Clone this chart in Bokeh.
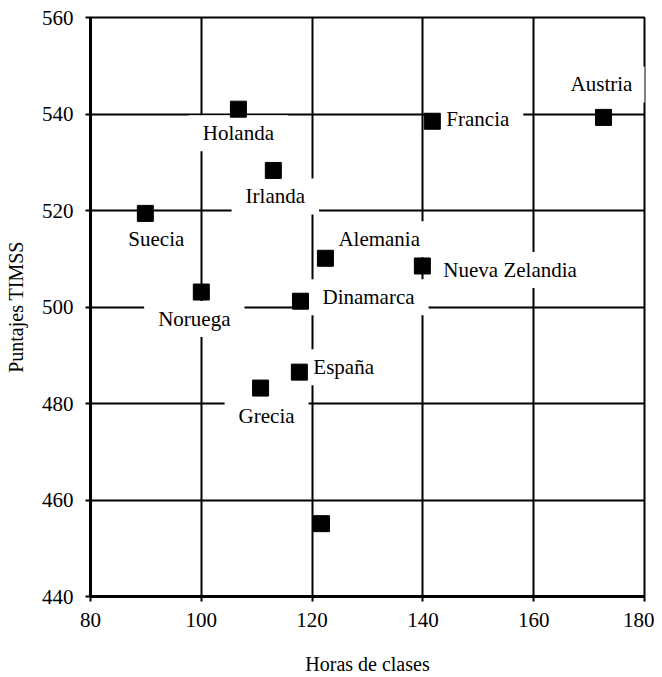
from bokeh.plotting import figure
from bokeh.models import ColumnDataSource, FixedTicker, Range1d
from bokeh.core.properties import value
from bokeh.embed import file_html
from bokeh.resources import INLINE

# data
paises = ["Holanda", "Irlanda", "Suecia", "Noruega", "Dinamarca", "Alemania",
          "Francia", "Austria", "Nueva Zelandia", "España", "Grecia", ""]
horas = [106.7, 113.0, 89.9, 100.0, 117.9, 122.4, 141.7, 172.6, 139.9, 117.7, 110.7, 121.7]
puntajes = [541.0, 528.3, 519.4, 503.1, 501.2, 510.1, 538.5, 539.3, 508.5, 486.5, 483.2, 455.1]
x_ticks = [80, 100, 120, 140, 160, 180]
y_ticks = [440, 460, 480, 500, 520, 540, 560]

# label placement (screen px offsets, styling)
lab_dx = [0, 2, 11, -7, 8, -1, 0, -2, 7, 0, 6, 0]
lab_dy = [24, 26, 26, 27, -4, -19, -2, -33, 4, -5, 28, 0]
lab_align = ["center", "center", "center", "center", "left", "left",
             "left", "center", "left", "left", "center", "center"]

src = ColumnDataSource(dict(x=horas, y=puntajes, name=paises,
                            dx=lab_dx, dy=lab_dy, align=lab_align))
lab_src = ColumnDataSource(dict(x=horas[:-1], y=puntajes[:-1], name=paises[:-1],
                                dx=lab_dx[:-1], dy=lab_dy[:-1], align=lab_align[:-1]))

FONT = "'Liberation Serif', serif"

p = figure(width=654, height=677, output_backend="svg", toolbar_location=None,
           x_range=Range1d(80, 180), y_range=Range1d(440, 560))
p.min_border_left = 90
p.min_border_right = 10
p.min_border_top = 17
p.min_border_bottom = 80
p.background_fill_color = "white"
p.border_fill_color = "white"
p.outline_line_color = "black"
p.outline_line_width = 2

p.xaxis.ticker = FixedTicker(ticks=x_ticks)
p.yaxis.ticker = FixedTicker(ticks=y_ticks)
p.xgrid.ticker = FixedTicker(ticks=x_ticks)
p.ygrid.ticker = FixedTicker(ticks=y_ticks)
for g in (p.xgrid, p.ygrid):
    g.grid_line_color = "black"
    g.grid_line_width = 2
    g.grid_line_alpha = 1

for ax in (p.xaxis, p.yaxis):
    ax.axis_line_width = 3
    ax.axis_line_color = "black"
    ax.major_tick_line_width = 2
    ax.major_tick_line_color = "black"
    ax.major_tick_out = 5
    ax.major_tick_in = 0
    ax.minor_tick_line_color = None
    ax.major_label_text_font = FONT
    ax.major_label_text_font_size = "21px"
    ax.major_label_text_color = "black"
    ax.axis_label_text_font = FONT
    ax.axis_label_text_font_size = "20px"
    ax.axis_label_text_font_style = "normal"
    ax.axis_label_text_color = "black"

p.xaxis.axis_label = "Horas de clases"
p.yaxis.axis_label = "Puntajes TIMSS"
p.xaxis.major_label_standoff = 11
p.yaxis.major_label_standoff = 12
p.xaxis.axis_label_standoff = 23
p.yaxis.axis_label_standoff = 12

p.text("x", "y", text="name", source=lab_src, x_offset="dx", y_offset="dy",
       text_align="align", text_baseline="middle",
       text_font=value(FONT), text_font_size="21px", text_color="black",
       background_fill_color="white", padding=(14, 6))

p.scatter("x", "y", source=src, marker="square", size=16,
          fill_color="black", line_color="black")

open("out.html", "w").write(file_html(p, INLINE))
